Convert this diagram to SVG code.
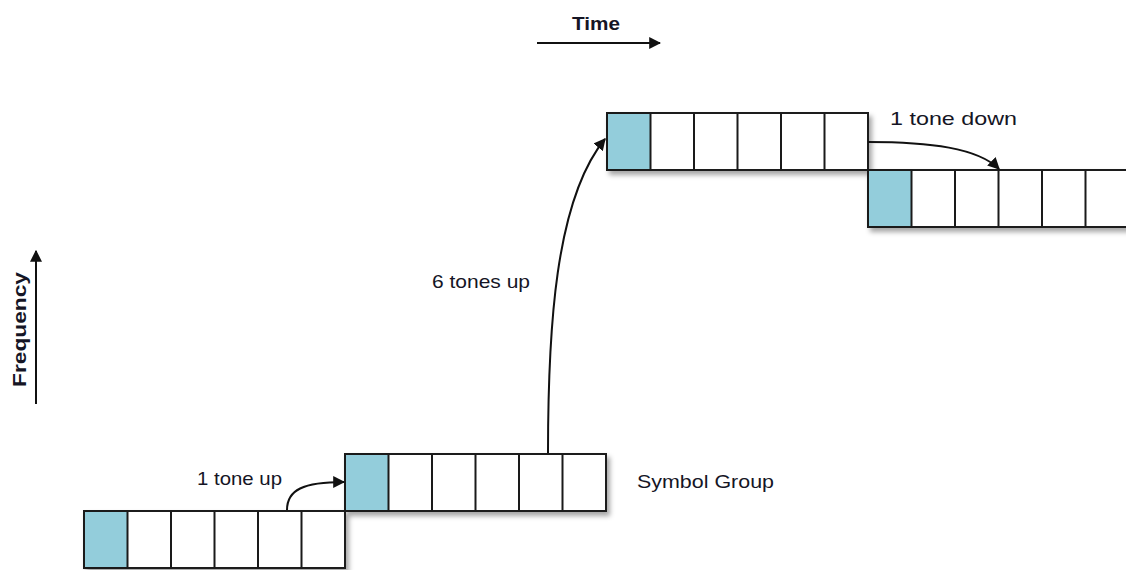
<svg xmlns="http://www.w3.org/2000/svg" width="1126" height="570" viewBox="0 0 1126 570">
<style>
.box{fill:#fff;stroke:#1a1a1a;stroke-width:2}
.hl{fill:#93CDDB;stroke:#1a1a1a;stroke-width:2}
.div{stroke:#1a1a1a;stroke-width:2}
.con{fill:none;stroke:#111;stroke-width:2}
.lbl{font-family:"Liberation Sans",Arial,sans-serif;font-size:19px;fill:#151525}
.ax{font-family:"Liberation Sans",Arial,sans-serif;font-size:18px;font-weight:bold;fill:#151525}
</style>
<defs>
<filter id="sh" x="-5%" y="-20%" width="115%" height="150%">
<feDropShadow dx="3" dy="4" stdDeviation="2.5" flood-color="#000" flood-opacity="0.35"/>
</filter>
<marker id="ah" viewBox="0 0 10 10" refX="9" refY="5" markerWidth="12" markerHeight="12" markerUnits="userSpaceOnUse" orient="auto">
<path d="M0,0 L10,5 L0,10 z" fill="#111"/>
</marker>
</defs>
<rect width="1126" height="570" fill="#fff"/>

<g id="group1">
<rect class="box" x="84" y="511" width="261" height="57" filter="url(#sh)"/>
<rect class="hl" x="84" y="511" width="43.5" height="57"/>
<path class="div" d="M171,511V568M214.5,511V568M258,511V568M301.5,511V568"/>
</g>
<g id="group2">
<rect class="box" x="345" y="454" width="261" height="57" filter="url(#sh)"/>
<rect class="hl" x="345" y="454" width="43.5" height="57"/>
<path class="div" d="M432,454V511M475.5,454V511M519,454V511M562.5,454V511"/>
</g>
<g id="group3">
<rect class="box" x="607" y="113" width="261" height="57" filter="url(#sh)"/>
<rect class="hl" x="607" y="113" width="43.5" height="57"/>
<path class="div" d="M694,113V170M737.5,113V170M781,113V170M824.5,113V170"/>
</g>
<g id="group4">
<rect class="box" x="868" y="170" width="261" height="57" filter="url(#sh)"/>
<rect class="hl" x="868" y="170" width="43.5" height="57"/>
<path class="div" d="M955,170V227M998.5,170V227M1042,170V227M1085.5,170V227"/>
</g>

<g id="connectors">
<path class="con" d="M287,510 C287,490 303,482 344,482" marker-end="url(#ah)"/>
<path class="con" d="M548,453 C548,330 555,200 605,139" marker-end="url(#ah)"/>
<path class="con" d="M868,142 C930,142 978,148 999,169" marker-end="url(#ah)"/>
<path class="con" d="M537,43 H660" marker-end="url(#ah)"/>
<path class="con" d="M36,404 V251" marker-end="url(#ah)"/>
</g>

<g id="labels">
<text class="ax" x="572" y="30" textLength="48" lengthAdjust="spacingAndGlyphs">Time</text>
<text class="ax" transform="translate(26,387) rotate(-90)" textLength="115" lengthAdjust="spacingAndGlyphs">Frequency</text>
<text class="lbl" x="197" y="485" textLength="85" lengthAdjust="spacingAndGlyphs">1 tone up</text>
<text class="lbl" x="432" y="288" textLength="98" lengthAdjust="spacingAndGlyphs">6 tones up</text>
<text class="lbl" x="890" y="125" textLength="127" lengthAdjust="spacingAndGlyphs">1 tone down</text>
<text class="lbl" x="637" y="488" textLength="137" lengthAdjust="spacingAndGlyphs">Symbol Group</text>
</g>
</svg>
